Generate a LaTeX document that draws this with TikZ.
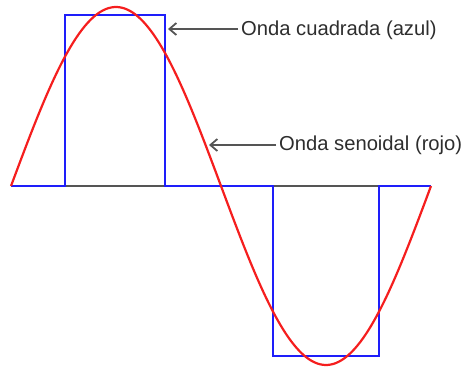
\documentclass[tikz,border=0pt]{standalone}
\usepackage{fontspec}
\setmainfont{Liberation Sans}
\usetikzlibrary{arrows.meta}
\definecolor{wred}{RGB}{245,30,30}
\definecolor{wblue}{RGB}{30,30,250}
\definecolor{wgray}{RGB}{85,85,85}
\definecolor{tgray}{RGB}{45,45,45}
\tikzset{
  sine/.style={wred, line width=2.2pt},
  square/.style={wblue, line width=2.2pt, line join=miter},
  axisline/.style={wgray, line width=2.4pt},
  callout/.style={wgray, line width=1.8pt, -{Straight Barb[length=7pt,width=12pt,line width=1.8pt]}},
  label/.style={text=tgray, font=\fontsize{20.2}{22}\selectfont, inner sep=3pt, anchor=west}
}
\begin{document}
\begin{tikzpicture}[x=1pt,y=-1pt]
\useasboundingbox (0,0) rectangle (464,367);
% axis
\draw[axisline] (11,186) coordinate (o) -- (431,186) coordinate (e);
% square wave
\draw[square] (o) -- (65,186) -- (65,15) -- (165,15) -- (165,186) -- (273,186) -- (273,356) -- (379,356) -- (379,186) -- (e);
% sine wave
\draw[sine, domain=11:431, samples=160, smooth] plot (\x, {186 - 179*sin((\x-11)/420*360)});
% labels
\node[label] (t1) at (238,30) {Onda cuadrada (azul)};
\node[label] (t2) at (276,145) {Onda senoidal (rojo)};
\coordinate (a1) at (168,29);
\coordinate (a2) at (209,145);
\draw[callout] (t1.west |- a1) -- (a1);
\draw[callout] (t2.west |- a2) -- (a2);
\end{tikzpicture}
\end{document}
